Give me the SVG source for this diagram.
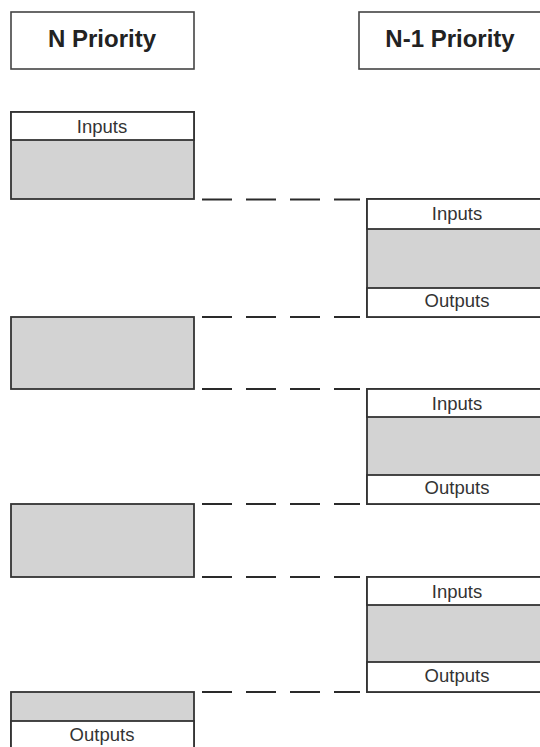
<svg xmlns="http://www.w3.org/2000/svg" width="540" height="747" viewBox="0 0 540 747">
<style>
.hdr{fill:#fff;stroke:#444;stroke-width:1.6}
.box{fill:#d3d3d3;stroke:#333;stroke-width:1.8}
.band{fill:#fff;stroke:#333;stroke-width:1.8}
.ht{font-family:"Liberation Sans",Arial,sans-serif;font-weight:bold;font-size:24px;fill:#222;text-anchor:middle}
.lt{font-family:"Liberation Sans",Arial,sans-serif;font-size:18.5px;fill:#333;text-anchor:middle}
.dash{stroke:#2a2a2a;stroke-width:2;stroke-dasharray:30 14;fill:none}
</style>
<rect width="540" height="747" fill="#fff"/>
<g id="header-n">
<rect class="hdr" x="11" y="12" width="183" height="57"/>
<text class="ht" x="102" y="47">N Priority</text>
</g>
<g id="header-n1">
<rect class="hdr" x="359" y="12" width="183" height="57"/>
<text class="ht" x="450" y="47">N-1 Priority</text>
</g>
<g id="n-block-1">
<rect class="box" x="11" y="112" width="183" height="87"/>
<rect class="band" x="11" y="112" width="183" height="28"/>
<text class="lt" x="102" y="133">Inputs</text>
</g>
<g id="n-block-2">
<rect class="box" x="11" y="317" width="183" height="72"/>
</g>
<g id="n-block-3">
<rect class="box" x="11" y="504" width="183" height="73"/>
</g>
<g id="n-block-4">
<rect class="box" x="11" y="692" width="183" height="70"/>
<rect class="band" x="11" y="721" width="183" height="41"/>
<text class="lt" x="102" y="741">Outputs</text>
</g>
<g id="n1-block-1">
<rect class="box" x="367" y="199" width="183" height="118"/>
<rect class="band" x="367" y="199" width="183" height="30"/>
<rect class="band" x="367" y="288" width="183" height="29"/>
<text class="lt" x="457" y="220">Inputs</text>
<text class="lt" x="457" y="307">Outputs</text>
</g>
<g id="n1-block-2">
<rect class="box" x="367" y="389" width="183" height="115"/>
<rect class="band" x="367" y="389" width="183" height="28"/>
<rect class="band" x="367" y="475" width="183" height="29"/>
<text class="lt" x="457" y="410">Inputs</text>
<text class="lt" x="457" y="494">Outputs</text>
</g>
<g id="n1-block-3">
<rect class="box" x="367" y="577" width="183" height="115"/>
<rect class="band" x="367" y="577" width="183" height="28"/>
<rect class="band" x="367" y="662" width="183" height="30"/>
<text class="lt" x="457" y="598">Inputs</text>
<text class="lt" x="457" y="682">Outputs</text>
</g>
<g id="connectors">
<line class="dash" x1="202" y1="199.5" x2="360" y2="199.5"/>
<line class="dash" x1="202" y1="317" x2="360" y2="317"/>
<line class="dash" x1="202" y1="389" x2="360" y2="389"/>
<line class="dash" x1="202" y1="504" x2="360" y2="504"/>
<line class="dash" x1="202" y1="577" x2="360" y2="577"/>
<line class="dash" x1="202" y1="692" x2="360" y2="692"/>
</g>
</svg>
